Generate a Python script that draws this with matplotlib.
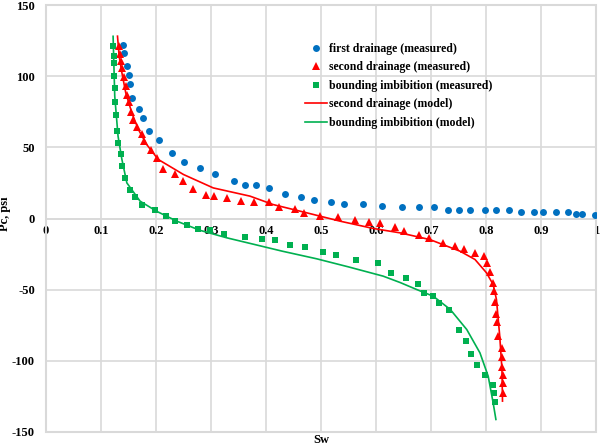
import numpy as np
import matplotlib as mpl
import matplotlib.pyplot as plt
from matplotlib.patches import Rectangle

mpl.rcParams['font.family'] = 'Liberation Serif'
mpl.rcParams['font.weight'] = 'bold'
mpl.rcParams['axes.labelweight'] = 'bold'
mpl.rcParams['axes.unicode_minus'] = False

# first drainage (measured)
sw_fd = [0.140, 0.142, 0.147, 0.150, 0.152, 0.157, 0.169, 0.177, 0.188, 0.206, 0.229,
         0.250, 0.280, 0.307, 0.341, 0.362, 0.381, 0.406, 0.435, 0.463, 0.487, 0.518,
         0.542, 0.577, 0.610, 0.648, 0.678, 0.705, 0.730, 0.751, 0.770, 0.798, 0.819,
         0.841, 0.863, 0.888, 0.904, 0.928, 0.949, 0.964, 0.975, 0.998]
pc_fd = [121.8, 116.4, 107.0, 100.7, 94.6, 84.8, 76.6, 70.5, 61.6, 55.3, 45.9,
         39.8, 35.6, 31.4, 26.2, 23.4, 23.4, 21.1, 17.1, 15.0, 12.9, 11.9,
         10.0, 10.0, 8.9, 7.9, 7.9, 7.9, 5.8, 5.8, 5.8, 5.8, 5.8,
         5.8, 4.7, 4.7, 4.7, 4.7, 4.7, 3.5, 3.5, 2.3]

# second drainage (measured)
sw_sd = [0.133, 0.135, 0.136, 0.138, 0.142, 0.145, 0.148, 0.150, 0.155, 0.159, 0.165,
         0.175, 0.178, 0.191, 0.202, 0.213, 0.235, 0.249, 0.267, 0.291, 0.305, 0.329,
         0.355, 0.378, 0.406, 0.424, 0.453, 0.469, 0.498, 0.531, 0.561, 0.588, 0.607,
         0.635, 0.651, 0.679, 0.697, 0.722, 0.744, 0.760, 0.780, 0.796, 0.802, 0.807,
         0.813, 0.815, 0.816, 0.818, 0.820, 0.821, 0.829, 0.829, 0.829, 0.830, 0.830, 0.830]
pc_sd = [121.5, 115.7, 110.5, 105.4, 99.6, 93.2, 87.1, 82.2, 74.7, 69.3, 64.6,
         59.7, 54.8, 48.3, 42.4, 35.1, 31.1, 26.0, 20.6, 16.6, 15.7, 14.3,
         12.6, 11.7, 11.5, 8.2, 7.0, 4.0, 2.1, 0.9, -1.2, -2.6, -3.0,
         -6.0, -8.6, -11.7, -13.6, -17.1, -19.0, -21.1, -23.9, -26.0, -31.1, -37.7,
         -45.2, -51.1, -58.5, -67.0, -72.9, -82.4, -90.8, -97.4, -104.2, -109.8, -115.4, -122.3]

# bounding imbibition (measured)
sw_bi = [0.122, 0.124, 0.124, 0.124, 0.125, 0.125, 0.127, 0.129, 0.131, 0.136, 0.139,
         0.144, 0.152, 0.162, 0.175, 0.198, 0.218, 0.235, 0.256, 0.277, 0.298, 0.324,
         0.362, 0.392, 0.416, 0.444, 0.471, 0.504, 0.527, 0.564, 0.604, 0.627, 0.655,
         0.676, 0.688, 0.704, 0.715, 0.733, 0.751, 0.764, 0.772, 0.784, 0.798, 0.812,
         0.814, 0.816]
pc_bi = [121.5, 114.0, 109.4, 100.2, 92.0, 82.0, 72.6, 61.3, 53.2, 45.0, 36.8,
         28.6, 20.2, 15.2, 9.8, 5.8, 1.6, -1.9, -4.6, -7.5, -8.4, -11.2,
         -13.0, -14.1, -15.2, -18.3, -20.1, -23.4, -25.3, -29.5, -31.6, -38.6, -41.9,
         -45.8, -52.2, -54.6, -59.2, -64.4, -78.0, -86.2, -95.3, -102.6, -110.1, -117.3,
         -122.5, -128.8]

# second drainage (model)
sw_sd_m = [0.130, 0.133, 0.138, 0.145, 0.156, 0.168, 0.183, 0.204, 0.250, 0.304, 0.371,
           0.413, 0.474, 0.535, 0.595, 0.644, 0.698, 0.753, 0.780, 0.801, 0.813, 0.819,
           0.825, 0.829, 0.830]
pc_sd_m = [128.1, 114.0, 102.4, 88.3, 74.3, 62.5, 52.0, 41.5, 30.9, 21.5, 15.7,
           9.8, 4.0, -1.9, -7.0, -10.1, -14.8, -23.0, -28.8, -38.2, -46.4, -56.9,
           -82.7, -106.0, -128.3]

# bounding imbibition (model)
sw_bi_m = [0.122, 0.125, 0.131, 0.135, 0.138, 0.147, 0.171, 0.201, 0.238, 0.280, 0.329,
           0.371, 0.430, 0.492, 0.550, 0.613, 0.644, 0.674, 0.704, 0.735, 0.765, 0.789,
           0.804, 0.813, 0.818]
pc_bi_m = [128.0, 85.9, 57.8, 48.5, 41.5, 25.0, 12.2, 5.1, -1.9, -8.3, -13.6,
           -17.5, -23.0, -28.3, -34.0, -40.5, -45.0, -49.9, -54.6, -63.9, -78.0, -94.4,
           -110.8, -129.5, -141.2]

gris = '#d9d9d9'

fig = plt.figure(figsize=(6, 4.46), dpi=100)
ax = fig.add_axes([46/600., 1-432/446., 550/600., 427/446.])

ax.plot(sw_fd, pc_fd, 'o', color='#0070C0', ms=5, mew=0, label='first drainage (measured)', zorder=3)
ax.plot(sw_sd, pc_sd, '^', color='#FF0000', ms=5.5, mew=0, label='second drainage (measured)', zorder=3)
ax.plot(sw_bi, pc_bi, 's', color='#00B050', ms=4.5, mew=0, label='bounding imbibition (measured)', zorder=3)
ax.plot(sw_sd_m, pc_sd_m, '-', color='#FF0000', lw=1.2, label='second drainage (model)', zorder=4)
ax.plot(sw_bi_m, pc_bi_m, '-', color='#00B050', lw=1.2, label='bounding imbibition (model)', zorder=4)

ax.set_xlim(0, 1)
ax.set_ylim(-150, 150)
ax.set_xticks(np.arange(0, 1.01, 0.1))
ax.set_xticklabels(['0', '0.1', '0.2', '0.3', '0.4', '0.5', '0.6', '0.7', '0.8', '0.9', '1'])
ax.set_yticks(np.arange(-150, 151, 50))
ax.tick_params(length=0, labelsize=9)
ax.tick_params(axis='x', pad=5)
ax.tick_params(axis='y', pad=8)
ax.grid(True, color=gris, lw=1.2, zorder=0)
ax.set_axisbelow(True)

# eje x cruzando en cero, marco gris alrededor
for s in ['top', 'right', 'left']:
    ax.spines[s].set_visible(False)
ax.spines['bottom'].set_position(('data', 0))
ax.spines['bottom'].set_color(gris)
ax.spines['bottom'].set_linewidth(1.2)
ax.add_patch(Rectangle((0, 0), 1, 1, transform=ax.transAxes, fill=False,
                       edgecolor=gris, lw=1.5, clip_on=False, zorder=1))

ax.set_xlabel('Sw', fontsize=9)
ax.xaxis.set_label_coords(0.5, -0.005)
ax.xaxis.label.set_va('top')
ax.set_ylabel('Pc, psi', fontsize=9)
ax.yaxis.set_label_coords(-0.064, 0.51)

ax.legend(loc='upper left', bbox_to_anchor=(305/600., 1-43/446.), bbox_transform=fig.transFigure,
          frameon=False, fontsize=8.5, handlelength=1.9, handletextpad=0.15,
          labelspacing=0.55, borderpad=0, borderaxespad=0)

plt.savefig('out.png', dpi=100)
